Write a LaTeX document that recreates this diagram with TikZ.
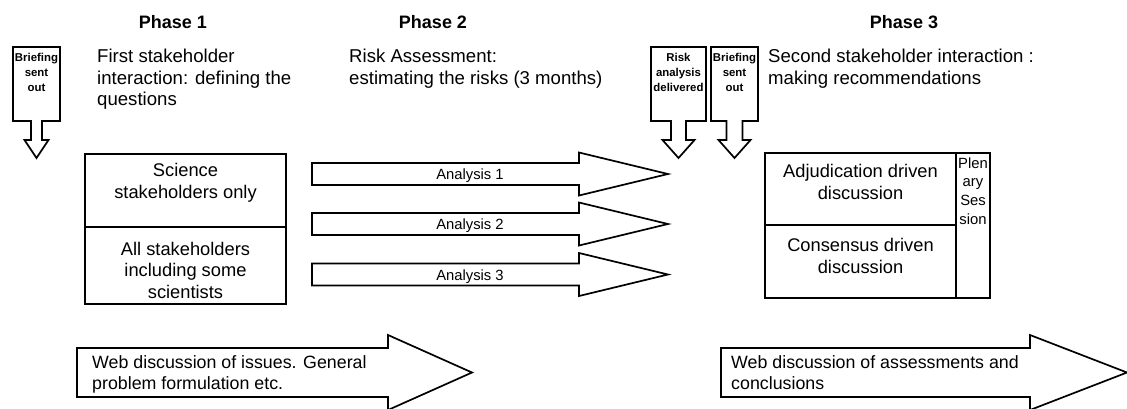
\documentclass[tikz,border=0pt]{standalone}
\usepackage{fontspec}
\setmainfont{Liberation Sans}
\tikzset{
  blk/.style={draw=black, fill=white, line width=1.7pt, line join=miter},
  cell/.style={draw=black, fill=white, line width=1.7pt, inner sep=0pt, rectangle},
  phase/.style={font=\fontsize{18}{21}\selectfont\bfseries, inner sep=0pt},
  head/.style={font=\fontsize{18.6}{21.5}\selectfont, inner sep=0pt, align=left, anchor=north west},
  boxtxt/.style={font=\fontsize{18.3}{21.5}\selectfont, inner sep=0pt, align=center},
  webtxt/.style={font=\fontsize{17.8}{21}\selectfont, inner sep=0pt, align=left, anchor=north west},
  antxt/.style={font=\fontsize{14.8}{17}\selectfont, inner sep=0pt},
  plentxt/.style={font=\fontsize{14.8}{18.7}\selectfont, inner sep=0pt, align=center},
  calltxt/.style={font=\fontsize{11.4}{15}\selectfont\bfseries, inner sep=0pt, align=center}
}
% callout: #1 left, #2 right, #3 stem half width, #4 head half width, #5 name, #6 text
\newcommand\mycallout[6]{%
  \pgfmathsetmacro\cxx{(#1+#2)/2}%
  \draw[blk] (#1,47) -- (#2,47) -- (#2,121) -- ({\cxx+#3},121) -- ({\cxx+#3},140)
     -- ({\cxx+#4},140) -- (\cxx,158) -- ({\cxx-#4},140) -- ({\cxx-#3},140)
     -- ({\cxx-#3},121) -- (#1,121) -- cycle;
  \node[calltxt] (#5) at (\cxx,72) {#6};
}
% analysis arrow: #1 centre y, #2 name, #3 label
\newcommand\myanarrow[3]{%
  \draw[blk] (312,{#1-11}) -- (579,{#1-11}) -- (579,{#1-21.5}) -- (668,#1)
     -- (579,{#1+21.5}) -- (579,{#1+11}) -- (312,{#1+11}) -- cycle;
  \node[antxt] (#2) at (470,{#1+2}) {#3};
}
\begin{document}
\begin{tikzpicture}[x=1pt,y=-1pt]
\fill[white] (0,0) rectangle (1127,408);
\useasboundingbox (0,0) rectangle (1127,408);

% phase headings
\node[phase] (p1) at (173,22) {Phase 1};
\node[phase] (p2) at (433,22) {Phase 2};
\node[phase] (p3) at (904,22) {Phase 3};

% descriptive headings
\node[head] (h1) at (97,49) {First stakeholder\\interaction: defining the\\questions};
\node[head] (h2) at (349,49) {Risk Assessment:\\estimating the risks (3 months)};
\node[head] (h3) at (768,49) {Second stakeholder interaction :\\making recommendations};

% callouts
\mycallout{13}{60}{5.5}{12}{brief1}{Briefing\\sent\\out}
\mycallout{651}{706}{7.5}{16}{risk}{Risk\\analysis\\delivered}
\mycallout{711}{758}{8}{16}{brief2}{Briefing\\sent\\out}

% phase 1 box
\node[cell, minimum width=201pt, minimum height=73pt] (sci) at (185.5,190.5) {};
\node[cell, minimum width=201pt, minimum height=77pt] (all) at (185.5,265.5) {};
\node[boxtxt] (scit) at (185.5,183) {Science\\stakeholders only};
\node[boxtxt] (allt) at (185.5,270) {All stakeholders\\including some\\scientists};

% analysis arrows
\myanarrow{174}{an1}{Analysis 1}
\myanarrow{224}{an2}{Analysis 2}
\myanarrow{274.5}{an3}{Analysis 3}

% phase 3 box
\node[cell, minimum width=191pt, minimum height=72pt] (adj) at (860.5,189) {};
\node[cell, minimum width=191pt, minimum height=73pt] (cons) at (860.5,261.5) {};
\node[cell, minimum width=34pt, minimum height=145pt] (plen) at (973,225.5) {};
\node[boxtxt] (adjt) at (860.5,182) {Adjudication driven\\discussion};
\node[boxtxt] (const) at (860.5,256) {Consensus driven\\discussion};
\node[plentxt] (plent) at (973,191) {Plen\\ary\\Ses\\sion};

% web arrows
\draw[blk] (77,348) -- (388,348) -- (388,335) -- (472,372.5) -- (388,410) -- (388,397) -- (77,397) -- cycle;
\node[webtxt] (web1) at (92,355.5) {Web discussion of issues. General\\problem formulation etc.};
\draw[blk] (721,348) -- (1030,348) -- (1030,335) -- (1127,372.5) -- (1030,410) -- (1030,397) -- (721,397) -- cycle;
\node[webtxt] (web2) at (731,355.5) {Web discussion of assessments and\\conclusions};
\end{tikzpicture}
\end{document}
